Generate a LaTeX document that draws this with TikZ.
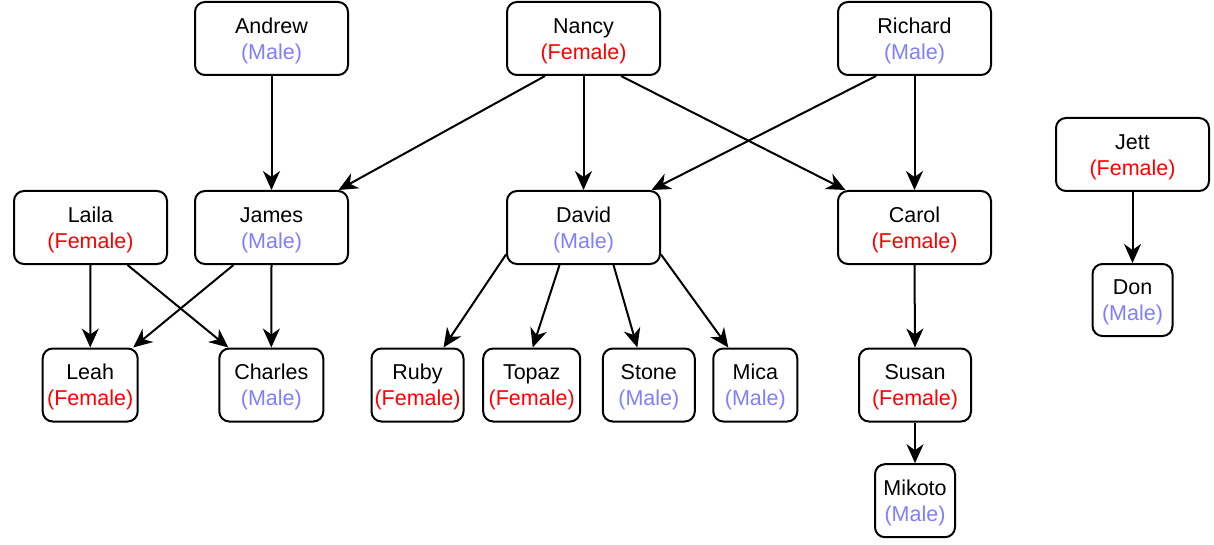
\documentclass[tikz,border=0pt]{standalone}
\usepackage{fontspec}
\setmainfont{Liberation Sans}
\usetikzlibrary{arrows.meta}
\definecolor{malec}{RGB}{127,127,255}
\definecolor{femalec}{RGB}{255,0,0}
\newcommand{\ml}{\textcolor{malec}{(Male)}}
\newcommand{\fm}{\textcolor{femalec}{(Female)}}
\tikzset{
  person/.style={draw=black, line width=2pt, rounded corners=10pt, fill=white,
    inner sep=0pt, align=center, minimum height=73pt, text height=41.5pt, text depth=0pt,
    font=\fontsize{21.5}{26}\selectfont},
  wide/.style={minimum width=153pt},
  link/.style={line width=2pt, -{Stealth[length=19pt,width=17pt,inset=6pt]}}
}
\begin{document}
\begin{tikzpicture}[x=1pt,y=-1pt]
\useasboundingbox[fill=white] (0,0) rectangle (1214,545);
% top row
\node[person,wide] (andrew) at (271.5,38.5) {Andrew\\\ml};
\node[person,wide] (nancy) at (583.5,38.5) {Nancy\\\fm};
\node[person,wide] (richard) at (914.5,38.5) {Richard\\\ml};
\node[person,wide] (jett) at (1132.5,154.5) {Jett\\\fm};
% middle row
\node[person,wide] (laila) at (90.5,227.5) {Laila\\\fm};
\node[person,wide] (james) at (271.5,227.5) {James\\\ml};
\node[person,wide] (david) at (583.5,227.5) {David\\\ml};
\node[person,wide] (carol) at (914.5,227.5) {Carol\\\fm};
\node[person,minimum width=80pt,minimum height=72pt] (don) at (1132.5,300) {Don\\\ml};
% bottom row
\node[person,minimum width=95pt] (leah) at (90.2,385) {Leah\\\fm};
\node[person,minimum width=104pt] (charles) at (271.3,385) {Charles\\\ml};
\node[person,minimum width=92pt] (ruby) at (417.5,385) {Ruby\\\fm};
\node[person,minimum width=97pt] (topaz) at (531.7,385) {Topaz\\\fm};
\node[person,minimum width=92pt] (stone) at (648.8,385) {Stone\\\ml};
\node[person,minimum width=84pt] (mica) at (755.3,385) {Mica\\\ml};
\node[person,minimum width=112pt] (susan) at (915,385) {Susan\\\fm};
\node[person,minimum width=80pt] (mikoto) at (915,500.7) {Mikoto\\\ml};
% edges
\draw[link] (andrew.south) -- (james.north);
\draw[link] ([xshift=-38.5pt]nancy.south) -- ([xshift=67pt]james.north);
\draw[link] (nancy.south) -- (david.north);
\draw[link] ([xshift=37.5pt]nancy.south) -- ([xshift=-69pt]carol.north);
\draw[link] ([xshift=-38.5pt]richard.south) -- ([xshift=68pt]david.north);
\draw[link] (richard.south) -- (carol.north);
\draw[link] (jett.south) -- (don.north);
\draw[link] (laila.south) -- (leah.north);
\draw[link] ([xshift=37pt]laila.south) -- ([xshift=-43pt]charles.north);
\draw[link] ([xshift=-38pt]james.south) -- ([xshift=43pt]leah.north);
\draw[link] (james.south) -- (charles.north);
\draw[link] ([yshift=-27pt]david.west) -- ([xshift=26pt]ruby.north);
\draw[link] ([xshift=-24pt]david.south) -- ([xshift=1pt]topaz.north);
\draw[link] ([xshift=30pt]david.south) -- ([xshift=-11.5pt]stone.north);
\draw[link] ([yshift=-27pt]david.east) -- ([xshift=-27pt]mica.north);
\draw[link] (carol.south) -- (susan.north);
\draw[link] (susan.south) -- (mikoto.north);
\end{tikzpicture}
\end{document}
